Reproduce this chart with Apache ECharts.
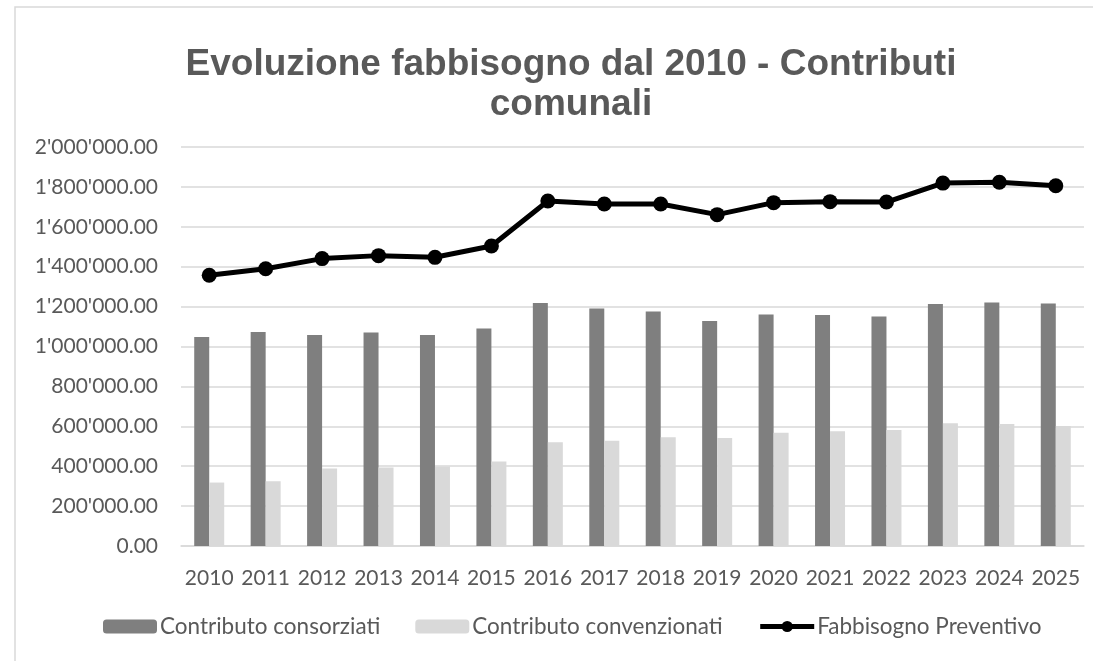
<!DOCTYPE html>
<html>
<head>
<meta charset="utf-8">
<script src="https://cdn.jsdelivr.net/npm/echarts@6/dist/echarts.min.js"></script>
<style>
html,body{margin:0;padding:0;background:#fff;}
#chart{width:1093px;height:661px;}
</style>
</head>
<body>
<div id="chart"></div>
<script>
const titleText = 'Evoluzione fabbisogno dal 2010 - Contributi\ncomunali';
const years = ['2010','2011','2012','2013','2014','2015','2016','2017','2018','2019','2020','2021','2022','2023','2024','2025'];
const consorziati = [1047500,1072600,1057500,1069600,1057500,1089600,1218000,1191000,1176000,1127700,1160000,1158000,1151000,1213000,1220000,1215000];
const convenzionati = [318000,324000,389000,393000,399000,423000,520000,528000,545000,541000,568000,575000,581000,615000,611000,601000];
const fabbisogno = [1357000,1390000,1440500,1455500,1447000,1503600,1729000,1714000,1714000,1661000,1721000,1726000,1724000,1819000,1823000,1806000];
const seriesNames = ['Contributo consorziati','Contributo convenzionati','Fabbisogno Preventivo'];
const yMin = 0, yMax = 2000000, yStep = 200000;

function fmt(v){
  const s = Math.round(v).toString().replace(/\B(?=(\d{3})+(?!\d))/g, "'");
  return s + '.00';
}

const chart = echarts.init(document.getElementById('chart'), null, {renderer:'canvas'});
const labelFont = 'Lato';
chart.setOption({
  animation:false,
  backgroundColor:'#ffffff',
  graphic:[{
    type:'rect', shape:{x:15,y:7,width:1200,height:700},
    style:{fill:'none',stroke:'#d9d9d9',lineWidth:1.5}, silent:true, z:-1
  }],
  title:{
    text:titleText,
    left:566, top:40, textAlign:'center',
    textStyle:{fontFamily:'Liberation Sans',fontWeight:'bold',fontSize:37,color:'#595959',lineHeight:40}
  },
  legend:{
    data:seriesNames,
    bottom:18, left:98,
    itemWidth:54, itemHeight:14, itemGap:35,
    lineStyle:{width:5},
    textStyle:{fontFamily:labelFont,fontSize:22.5,color:'#595959',padding:[0,0,0,-2]}
  },
  grid:{left:181,right:9,top:147,bottom:115,containLabel:false},
  xAxis:{
    type:'category', data:years,
    axisLine:{lineStyle:{color:'#d9d9d9',width:1.5}},
    axisTick:{show:false},
    axisLabel:{fontFamily:labelFont,fontSize:21,color:'#595959',margin:22,interval:0}
  },
  yAxis:{
    type:'value', min:yMin, max:yMax, interval:yStep,
    axisLine:{show:false}, axisTick:{show:false},
    splitLine:{lineStyle:{color:'#d9d9d9',width:1.5}},
    axisLabel:{fontFamily:labelFont,fontSize:21,color:'#595959',margin:23,formatter:fmt}
  },
  series:[
    {name:seriesNames[0],type:'bar',data:consorziati,barWidth:15,barGap:'0%',itemStyle:{color:'#7f7f7f'}},
    {name:seriesNames[1],type:'bar',data:convenzionati,barWidth:15,barGap:'0%',itemStyle:{color:'#d9d9d9'}},
    {name:seriesNames[2],type:'line',data:fabbisogno,symbol:'circle',symbolSize:15,
     lineStyle:{color:'#000',width:5},itemStyle:{color:'#000'},z:5}
  ]
});
</script>
</body>
</html>
